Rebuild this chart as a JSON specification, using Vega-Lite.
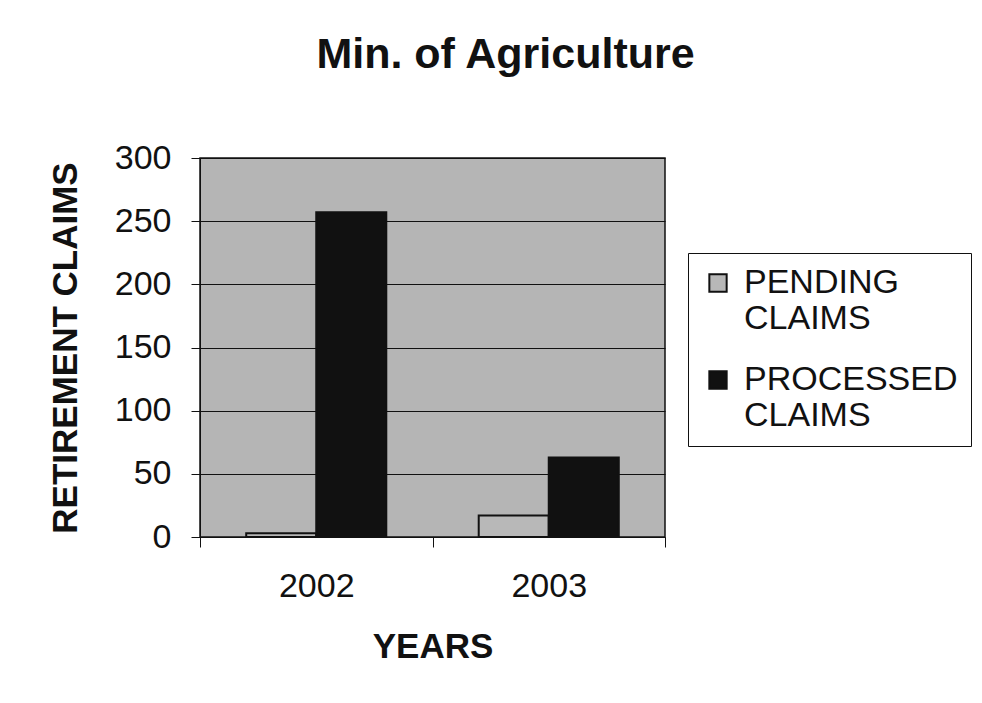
{
  "$schema": "https://vega.github.io/schema/vega-lite/v6.json",
  "autosize": "none",
  "width": 465,
  "height": 379,
  "padding": {"left": 200, "top": 158, "right": 317, "bottom": 166},
  "background": "white",
  "title": {
    "text": "Min. of Agriculture",
    "font": "Liberation Sans",
    "fontSize": 43,
    "fontWeight": "bold",
    "color": "#111",
    "anchor": "middle",
    "dx": 73,
    "offset": 64
  },
  "data": {
    "values": [
      {"year": "2002", "series": "PENDING CLAIMS", "claims": 3},
      {"year": "2002", "series": "PROCESSED CLAIMS", "claims": 257},
      {"year": "2003", "series": "PENDING CLAIMS", "claims": 17},
      {"year": "2003", "series": "PROCESSED CLAIMS", "claims": 63}
    ]
  },
  "mark": {"type": "bar", "stroke": "#111", "strokeWidth": 2},
  "encoding": {
    "x": {
      "field": "year",
      "type": "nominal",
      "title": "YEARS",
      "scale": {"paddingInner": 0, "paddingOuter": 0},
      "axis": {
        "labelAngle": 0,
        "tickBand": "extent",
        "tickSize": 10,
        "tickColor": "#111",
        "domainColor": "#111",
        "labelPadding": 22,
        "titlePadding": 26,
        "grid": false
      }
    },
    "xOffset": {"field": "series", "type": "nominal", "scale": {"paddingInner": 0, "paddingOuter": 0.66}},
    "y": {
      "field": "claims",
      "type": "quantitative",
      "title": "RETIREMENT CLAIMS",
      "scale": {"domain": [0, 300], "nice": false},
      "axis": {
        "values": [0, 50, 100, 150, 200, 250, 300],
        "tickSize": 9,
        "tickColor": "#111",
        "domainColor": "#111",
        "labelPadding": 20,
        "titlePadding": 31,
        "grid": true,
        "gridColor": "#111",
        "gridWidth": 1.2
      }
    },
    "color": {
      "field": "series",
      "type": "nominal",
      "title": null,
      "scale": {"domain": ["PENDING CLAIMS", "PROCESSED CLAIMS"], "range": ["#b8b8b8", "#111111"]},
      "legend": {
        "orient": "none",
        "legendX": 488,
        "legendY": 95,
        "labelExpr": "split(datum.label, ' ')",
        "labelFont": "Liberation Sans",
        "labelFontSize": 34,
        "labelColor": "#111",
        "labelLimit": 400,
        "labelOffset": 9,
        "symbolType": "square",
        "symbolSize": 300,
        "symbolStrokeColor": "#111",
        "symbolStrokeWidth": 2,
        "rowPadding": 27,
        "padding": 13,
        "strokeColor": "#111",
        "fillColor": "white"
      }
    }
  },
  "config": {
    "view": {"fill": "#b5b5b5", "stroke": "#111", "strokeWidth": 1.5},
    "axis": {
      "labelFont": "Liberation Sans",
      "labelFontSize": 34,
      "labelColor": "#111",
      "titleFont": "Liberation Sans",
      "titleFontSize": 35,
      "titleFontWeight": "bold",
      "titleColor": "#111"
    }
  }
}
